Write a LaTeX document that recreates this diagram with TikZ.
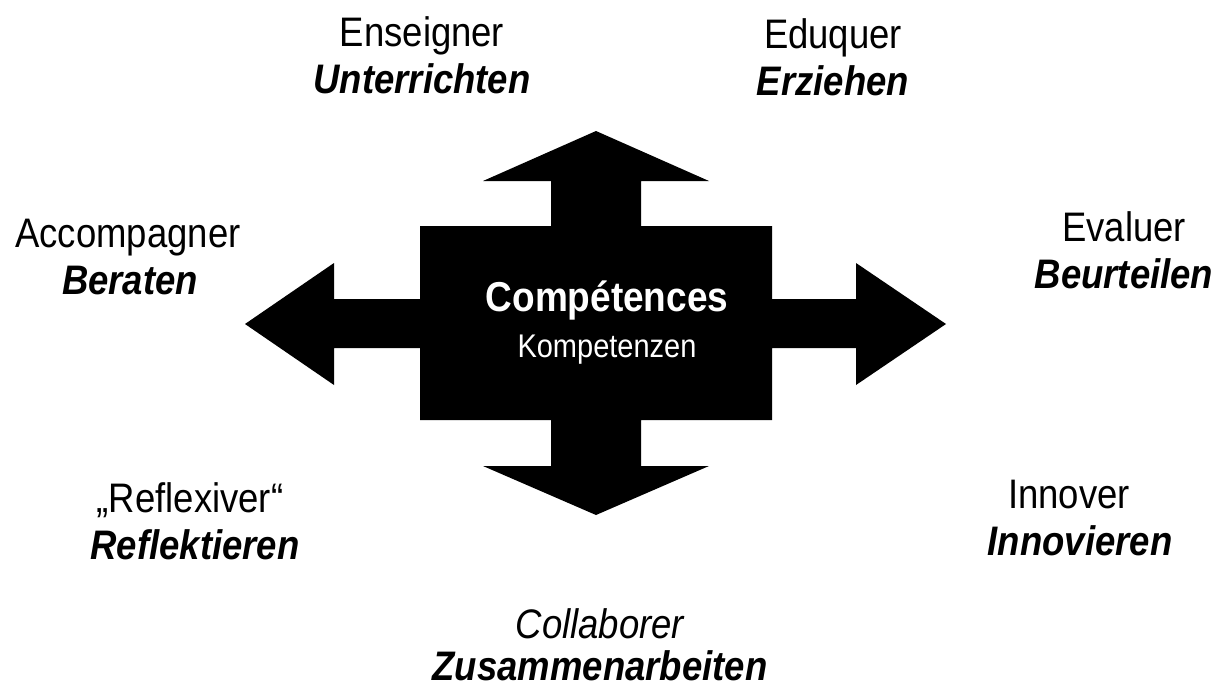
\documentclass[tikz,border=0pt]{standalone}
\usepackage{fontspec}
\setmainfont{Liberation Sans}
\newcommand\tallt[1]{\scalebox{1}[1.13]{#1}}
\begin{document}
\begin{tikzpicture}[x=1pt,y=-1pt,
  lbl/.style={anchor=base,inner sep=0pt,font=\fontsize{36.5}{42}\selectfont},
  lblde/.style={lbl,font=\fontsize{36.5}{42}\selectfont\bfseries\itshape},
  inner/.style={anchor=base,inner sep=0pt,text=white}]
\useasboundingbox (0,0) rectangle (1221,688);
% central cross with four arrows
\fill[black] (420,226) -- (551,226) -- (551,181) -- (483,181) -- (596,131) -- (709,181) -- (641,181) -- (641,226)
  -- (772,226) -- (772,299) -- (856,299) -- (856,263) -- (946,324) -- (856,385) -- (856,348) -- (772,348)
  -- (772,420) -- (641,420) -- (641,466) -- (709,466) -- (596,515) -- (483,466) -- (551,466) -- (551,420)
  -- (420,420) -- (420,348) -- (334,348) -- (334,385) -- (245,324) -- (334,263) -- (334,299) -- (420,299) -- cycle;
\node[inner,font=\fontsize{37}{42}\selectfont\bfseries] (comp) at (607,311) {\tallt{Compétences}};
\node[inner,font=\fontsize{29}{34}\selectfont] (komp) at (607,357) {\tallt{Kompetenzen}};
% labels
\node[lbl] (ens) at (422,46) {\tallt{Enseigner}};
\node[lblde] (unt) at (422,93) {\tallt{Unterrichten}};
\node[lbl] (edu) at (833,48) {\tallt{Eduquer}};
\node[lblde] (erz) at (833,95) {\tallt{Erziehen}};
\node[lbl] (acc) at (128,247) {\tallt{Accompagner}};
\node[lblde] (ber) at (130,294) {\tallt{Beraten}};
\node[lbl] (eva) at (1124,241) {\tallt{Evaluer}};
\node[lblde] (beu) at (1124,288) {\tallt{Beurteilen}};
\node[lbl] (ref) at (190,512) {\tallt{„Reflexiver“}};
\node[lblde] (rek) at (195,559) {\tallt{Reflektieren}};
\node[lbl] (inn) at (1069,508) {\tallt{Innover}};
\node[lblde] (inv) at (1080,555) {\tallt{Innovieren}};
\node[lbl,font=\fontsize{36.5}{42}\selectfont\itshape] (col) at (600,638) {\tallt{Collaborer}};
\node[lblde] (zus) at (600,680) {\tallt{Zusammenarbeiten}};
\end{tikzpicture}
\end{document}
